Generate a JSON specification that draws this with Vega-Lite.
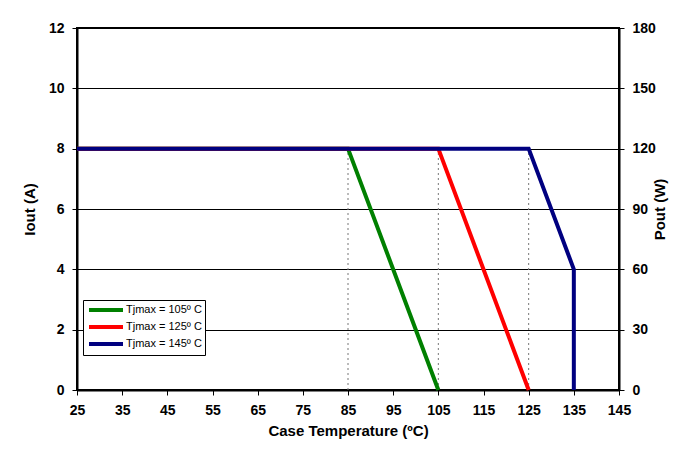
{
  "$schema": "https://vega.github.io/schema/vega-lite/v6.json",
  "width": 542,
  "height": 362,
  "autosize": "none",
  "padding": {"left": 77, "top": 28, "right": 75, "bottom": 63},
  "background": "white",
  "config": {
    "view": {"stroke": "black", "strokeWidth": 2},
    "font": "Liberation Sans",
    "axis": {
      "labelFont": "Liberation Sans", "labelFontWeight": "bold", "labelFontSize": 14, "labelColor": "black",
      "titleFont": "Liberation Sans", "titleFontWeight": "bold", "titleFontSize": 15, "titleColor": "black",
      "domainColor": "black", "tickColor": "black", "tickSize": 5, "domainWidth": 2
    }
  },
  "datasets": {
    "curves": [
      {"series": "Tjmax = 105º C", "idx": 1, "temp": 25, "iout": 8},
      {"series": "Tjmax = 105º C", "idx": 2, "temp": 85, "iout": 8},
      {"series": "Tjmax = 105º C", "idx": 3, "temp": 105, "iout": 0},
      {"series": "Tjmax = 125º C", "idx": 1, "temp": 25, "iout": 8},
      {"series": "Tjmax = 125º C", "idx": 2, "temp": 105, "iout": 8},
      {"series": "Tjmax = 125º C", "idx": 3, "temp": 125, "iout": 0},
      {"series": "Tjmax = 145º C", "idx": 1, "temp": 25, "iout": 8},
      {"series": "Tjmax = 145º C", "idx": 2, "temp": 125, "iout": 8},
      {"series": "Tjmax = 145º C", "idx": 3, "temp": 135, "iout": 4},
      {"series": "Tjmax = 145º C", "idx": 4, "temp": 135, "iout": 0}
    ],
    "guides": [
      {"temp": 85, "lo": 0, "hi": 8},
      {"temp": 105, "lo": 0, "hi": 8},
      {"temp": 125, "lo": 0, "hi": 8}
    ],
    "pout": [
      {"temp": 25, "pout": 0},
      {"temp": 145, "pout": 180}
    ]
  },
  "layer": [
    {
      "layer": [
        {
          "data": {"name": "guides"},
          "mark": {"type": "rule", "strokeDash": [2, 3], "color": "#777777", "strokeWidth": 1},
          "encoding": {
            "x": {"field": "temp", "type": "quantitative", "scale": {"domain": [25, 145], "nice": false}},
            "y": {"field": "lo", "type": "quantitative"},
            "y2": {"field": "hi"}
          }
        },
        {
          "data": {"name": "curves"},
          "mark": {"type": "line", "strokeWidth": 4},
          "encoding": {
            "x": {
              "field": "temp", "type": "quantitative",
              "scale": {"domain": [25, 145], "nice": false},
              "axis": {"values": [25, 35, 45, 55, 65, 75, 85, 95, 105, 115, 125, 135, 145], "title": "Case Temperature (ºC)", "grid": false, "labelPadding": 8, "titlePadding": 6, "labelFlush": false}
            },
            "y": {
              "field": "iout", "type": "quantitative",
              "scale": {"domain": [0, 12], "nice": false},
              "axis": {"values": [0, 2, 4, 6, 8, 10, 12], "title": "Iout (A)", "grid": true, "gridColor": "black", "gridWidth": 1, "gridOpacity": 1, "labelPadding": 8, "titlePadding": 11}
            },
            "color": {
              "field": "series", "type": "nominal",
              "scale": {"domain": ["Tjmax = 105º C", "Tjmax = 125º C", "Tjmax = 145º C"], "range": ["#008000", "#ff0000", "#000080"]},
              "legend": {
                "title": null, "orient": "none", "legendX": 6, "legendY": 272,
                "symbolType": "M-0.8,0L6,0", "symbolSize": 100, "symbolStrokeWidth": 4,
                "labelFont": "Liberation Sans", "labelFontSize": 11, "labelColor": "black",
                "strokeColor": "black", "fillColor": "white", "padding": 3, "rowPadding": 1, "labelOffset": 26
              }
            },
            "order": {"field": "idx", "type": "quantitative"}
          }
        }
      ]
    },
    {
      "data": {"name": "pout"},
      "mark": {"type": "point", "opacity": 0},
      "encoding": {
        "x": {"field": "temp", "type": "quantitative", "scale": {"domain": [25, 145], "nice": false}},
        "y": {
          "field": "pout", "type": "quantitative",
          "scale": {"domain": [0, 180], "nice": false},
          "axis": {"orient": "right", "values": [0, 30, 60, 90, 120, 150, 180], "title": "Pout (W)", "titleAngle": 270, "grid": false, "labelPadding": 8, "titlePadding": 12}
        }
      }
    }
  ],
  "resolve": {"scale": {"y": "independent"}}
}
